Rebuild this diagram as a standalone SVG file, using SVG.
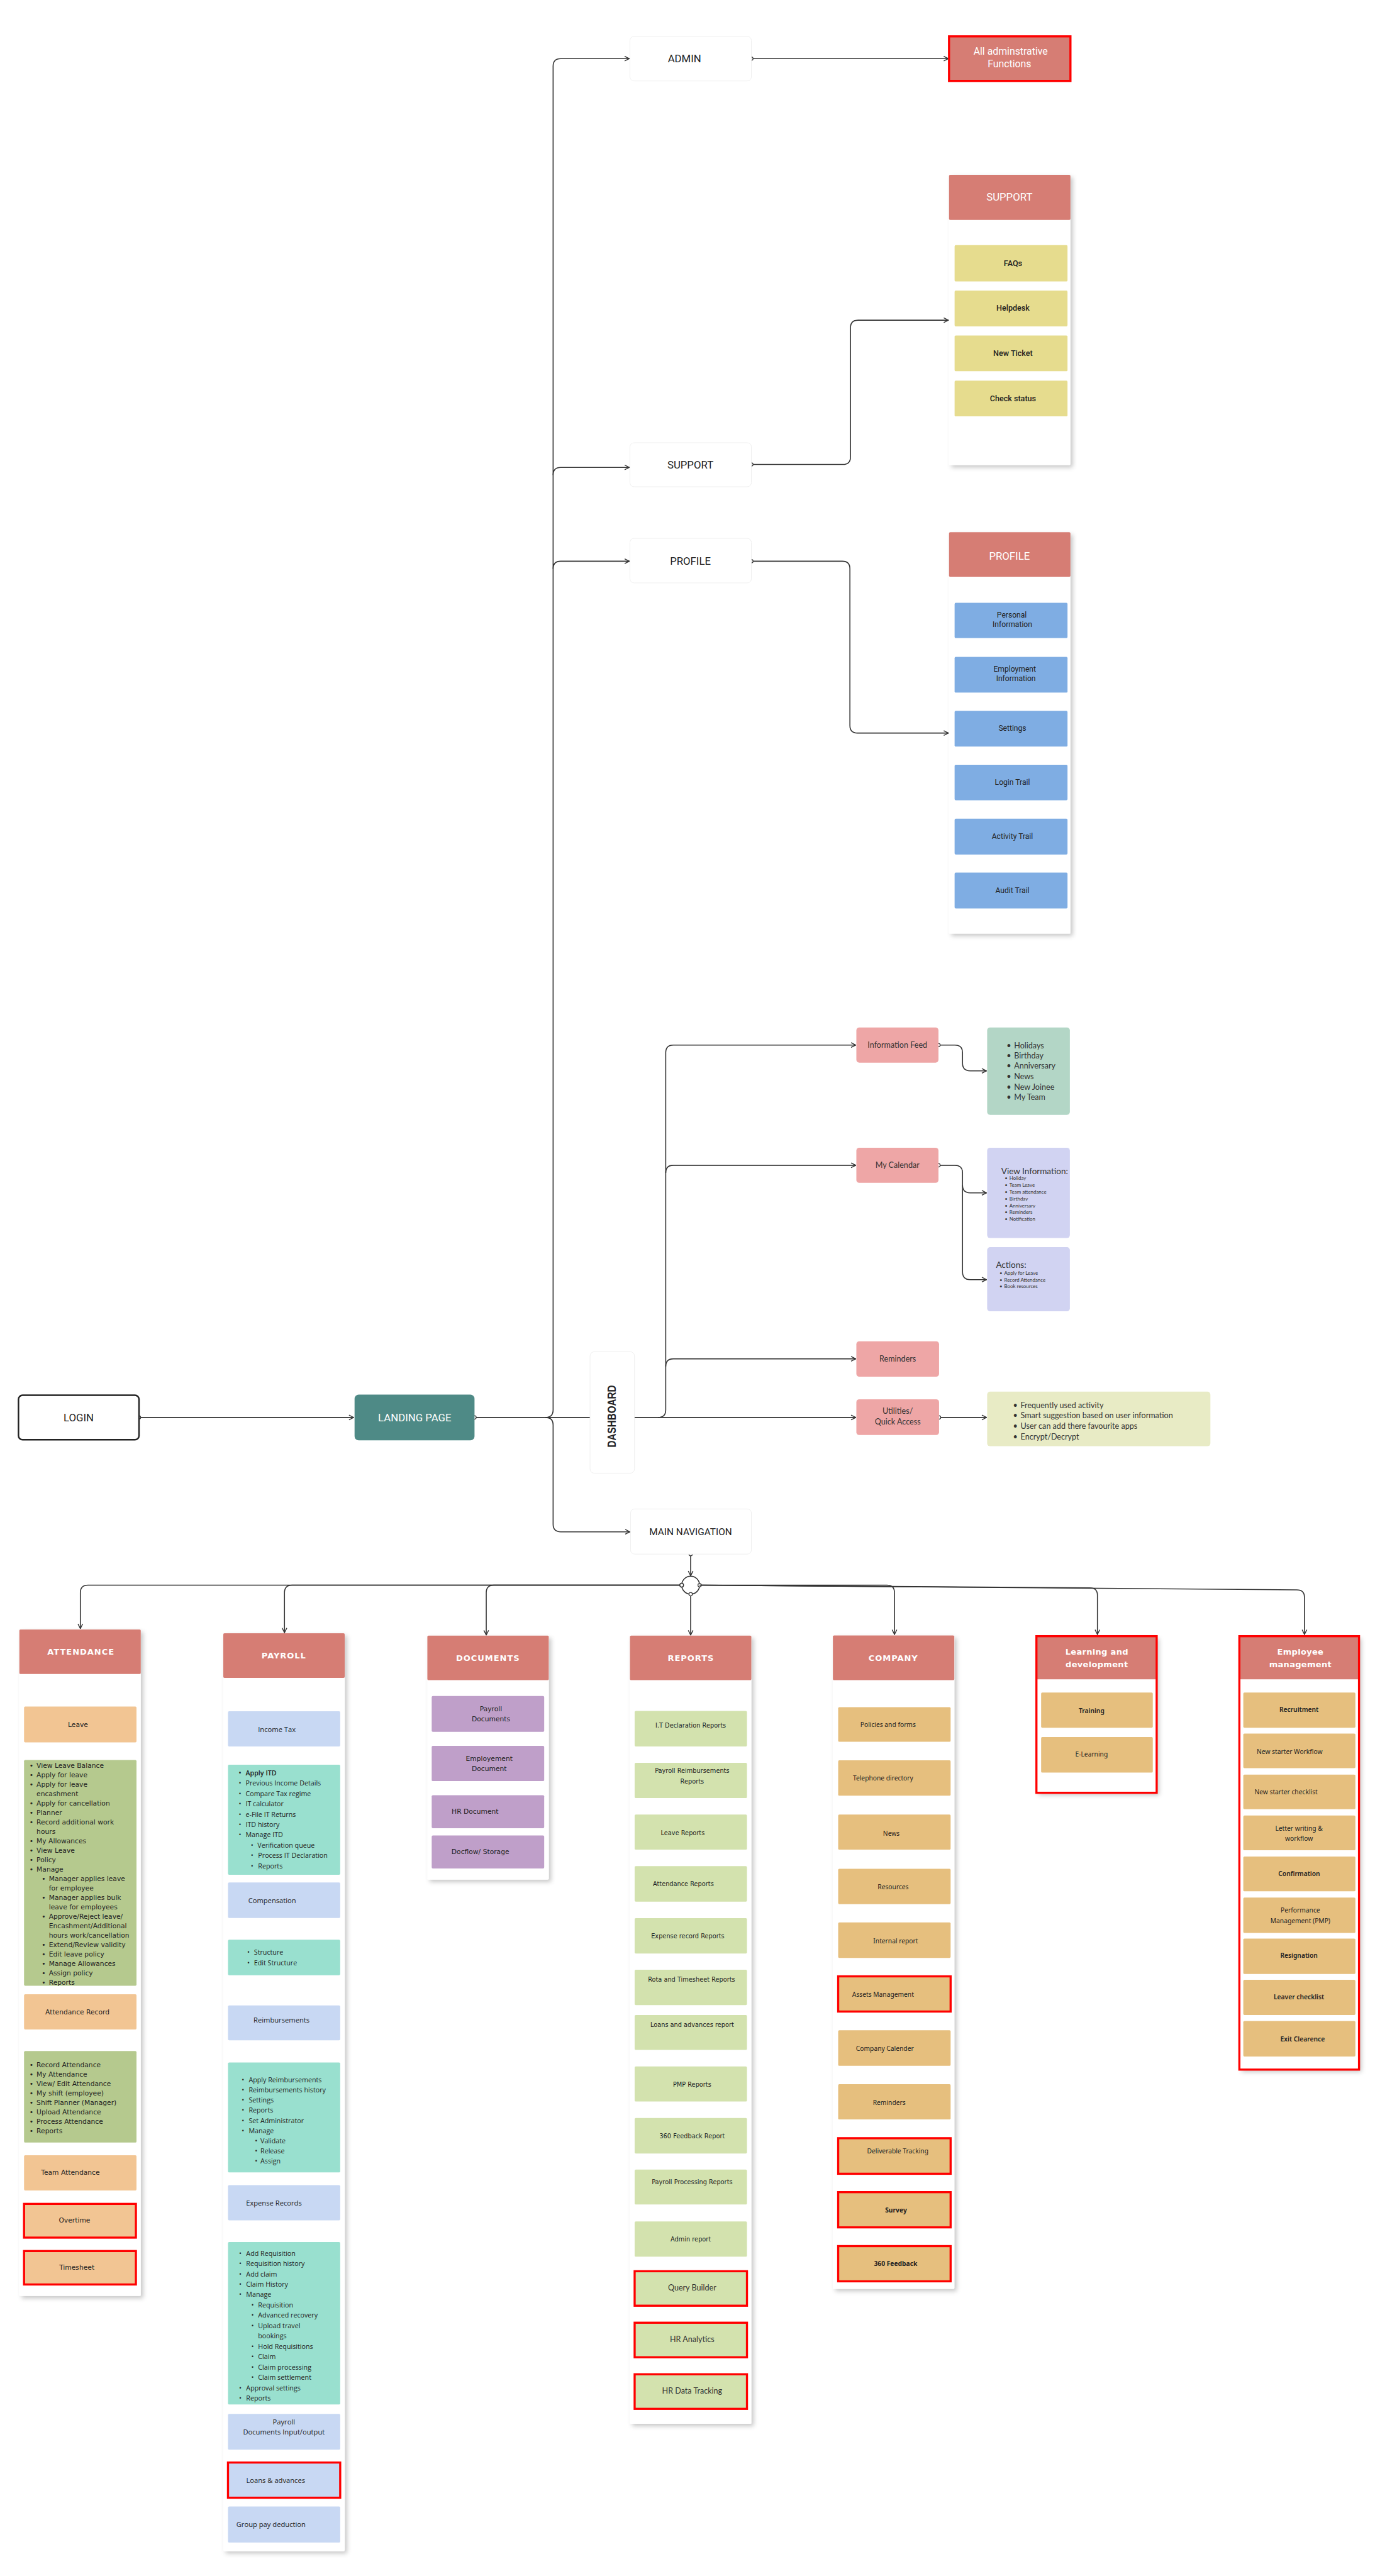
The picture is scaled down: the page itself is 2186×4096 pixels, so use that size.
<svg xmlns="http://www.w3.org/2000/svg" width="2186" height="4096" viewBox="0 0 2186 4096">
<defs>
<filter id="sh" x="-10%" y="-5%" width="125%" height="115%"><feDropShadow dx="4" dy="4" stdDeviation="4" flood-color="#000" flood-opacity="0.22"/></filter>
<marker id="ar" viewBox="0 0 10 10" refX="9" refY="5" markerWidth="10" markerHeight="10" markerUnits="userSpaceOnUse" orient="auto"><path d="M1,1 L9,5 L1,9" fill="none" stroke="#333" stroke-width="1.5"/></marker>
<marker id="dt" viewBox="0 0 10 10" refX="5" refY="5" markerWidth="8" markerHeight="8" markerUnits="userSpaceOnUse"><circle cx="5" cy="5" r="3.6" fill="#fff" stroke="#333" stroke-width="1.6"/></marker>
<style>
.c{fill:none;stroke:#333;stroke-width:1.7}
.ca{fill:none;stroke:#333;stroke-width:1.7;marker-end:url(#ar)}
.cd{fill:none;stroke:#333;stroke-width:1.7;marker-start:url(#dt);marker-end:url(#ar)}
.wn{fill:#fff;stroke:#eeeeee;stroke-width:1}
.pn{fill:#fff;filter:url(#sh)}
.hd{fill:#d67d74}
.rb{fill:none;stroke:#ff0000;stroke-width:3.6}
.t{font-family:Roboto,"Liberation Sans",sans-serif;fill:#222;text-anchor:middle;dominant-baseline:central}
.tw{font-family:Roboto,"Liberation Sans",sans-serif;fill:#fff;text-anchor:middle;dominant-baseline:central}
.h{font-family:"DejaVu Sans",sans-serif;font-weight:bold;font-size:14px;letter-spacing:1px;fill:#fff;text-anchor:middle;dominant-baseline:central}
.hl{font-family:"DejaVu Sans",sans-serif;font-weight:bold;font-size:14px;letter-spacing:0.3px;fill:#fff;text-anchor:middle;dominant-baseline:central}
.dj{font-family:"DejaVu Sans",sans-serif;font-size:11.5px;fill:#222;text-anchor:middle;dominant-baseline:central}
.djl{font-family:"DejaVu Sans",sans-serif;font-size:11.5px;fill:#222;dominant-baseline:central}
.dr{font-family:"DejaVu Sans",sans-serif;font-size:10.5px;fill:#222;text-anchor:middle;dominant-baseline:central}
.os{font-family:"Open Sans",sans-serif;font-size:12px;fill:#222;text-anchor:middle;dominant-baseline:central}
.osl{font-family:"Open Sans",sans-serif;font-size:11.5px;fill:#222;dominant-baseline:central}
.ns{font-family:"Noto Sans",sans-serif;font-size:11px;fill:#222;text-anchor:middle;dominant-baseline:central}
.la{font-family:Lato,sans-serif;font-size:13.5px;fill:#333;text-anchor:middle;dominant-baseline:central}
.lal{font-family:Lato,sans-serif;font-size:13.5px;fill:#333;dominant-baseline:central}
.las{font-family:Lato,sans-serif;font-size:8.5px;fill:#333;dominant-baseline:central}
.lat{font-family:Lato,sans-serif;font-size:14.5px;fill:#333;dominant-baseline:central}
</style>
</defs>
<g transform="scale(0.9325)">
<rect x="0" y="0" width="2344" height="4393" fill="#fff"/>

<g id="connectors">
<path class="cd" d="M237,2417 H603"/>
<path class="c" d="M809,2417 H1006" marker-start="url(#dt)"/>
<path class="ca" d="M1081,2417 H1459"/>
<path class="ca" d="M930,2417 Q943,2417 943,2404 V113 Q943,100 956,100 H1073"/>
<path class="ca" d="M943,810 Q943,797 956,797 H1073"/>
<path class="ca" d="M943,970 Q943,957 956,957 H1073"/>
<path class="ca" d="M930,2417 Q943,2417 943,2430 V2599 Q943,2612 956,2612 H1074"/>
<path class="cd" d="M1281,100 H1617"/>
<path class="cd" d="M1281,792 H1437 Q1450,792 1450,779 V559 Q1450,546 1463,546 H1617"/>
<path class="cd" d="M1281,957 H1436 Q1449,957 1449,970 V1237 Q1449,1250 1462,1250 H1617"/>
<path class="ca" d="M1122,2417 Q1135,2417 1135,2404 V1795 Q1135,1782 1148,1782 H1459"/>
<path class="ca" d="M1135,2000 Q1135,1987 1148,1987 H1459"/>
<path class="ca" d="M1135,2330 Q1135,2317 1148,2317 H1459"/>
<path class="cd" d="M1600,1782 H1628 Q1641,1782 1641,1795 V1813 Q1641,1826 1654,1826 H1682"/>
<path class="cd" d="M1600,1987 H1628 Q1641,1987 1641,2000 V2021 Q1641,2034 1654,2034 H1682"/>
<path class="ca" d="M1641,2021 V2169 Q1641,2182 1654,2182 H1682"/>
<path class="cd" d="M1601,2417 H1682"/>
<path class="cd" d="M1177.5,2650 V2687"/>
<circle cx="1177.5" cy="2703" r="15.3" fill="#fff" stroke="#333" stroke-width="1.7"/>
<path class="cd" d="M1162.2,2703 H150 Q137,2703 137,2716 V2777"/>
<path class="ca" d="M1162.2,2703 H498 Q485,2703 485,2716 V2784"/>
<path class="ca" d="M1162.2,2703 H842 Q829,2703 829,2716 V2788"/>
<path class="cd" d="M1177.5,2718.3 V2788"/>
<path class="cd" d="M1192.8,2703 H1512 Q1525,2703 1525,2716 V2787"/>
<path class="ca" d="M1192.8,2703 L1858,2707.5 Q1871,2707.6 1871,2720 V2787"/>
<path class="ca" d="M1192.8,2703 L2211,2711 Q2224,2711 2224,2724 V2787"/>
<circle cx="1162.2" cy="2703" r="3.2" fill="#fff" stroke="#333" stroke-width="1.5"/>
<path class="cd" d="M136.7,2976 V3003"/>
<path class="cd" d="M136.7,3466 V3499"/>
<path class="cd" d="M484,2980 V3008"/>
<path class="cd" d="M484,3271 V3306"/>
<path class="cd" d="M484,3480 V3515"/>
<path class="cd" d="M484,3786 V3822"/>
</g>

<g id="login"><rect x="31.5" y="2379" width="205.5" height="76" rx="7" fill="#fff" stroke="#222" stroke-width="2.6"/><text class="t" x="134" y="2417" font-size="18">LOGIN</text></g>
<g id="landing"><rect x="604.5" y="2378" width="204.5" height="78" rx="7" fill="#4e8a86"/><text class="tw" x="707" y="2417" font-size="18">LANDING PAGE</text></g>
<g id="admin"><rect class="wn" x="1074" y="62" width="207" height="76" rx="7"/><text class="t" x="1167" y="100" font-size="18">ADMIN</text></g>
<g id="support"><rect class="wn" x="1074" y="755" width="207" height="75" rx="7"/><text class="t" x="1177" y="792" font-size="18">SUPPORT</text></g>
<g id="profile"><rect class="wn" x="1074" y="918" width="207" height="76" rx="7"/><text class="t" x="1177" y="957" font-size="18">PROFILE</text></g>
<g id="dashboard"><rect class="wn" x="1006" y="2305" width="75.7" height="207" rx="7"/><text x="1043" y="2415" transform="rotate(-90 1043 2415)" font-family="'Liberation Sans',Arial,sans-serif" font-weight="bold" font-size="20" fill="#222" text-anchor="middle" dominant-baseline="central" textLength="106" lengthAdjust="spacingAndGlyphs">DASHBOARD</text></g>
<g id="main-navigation"><rect class="wn" x="1075" y="2573" width="206" height="77" rx="7"/><text class="t" x="1177.5" y="2612" font-size="16.5">MAIN NAVIGATION</text></g>

<g id="all-admin"><rect class="hd" x="1618" y="62" width="207" height="76"/><rect class="rb" x="1618" y="62" width="207" height="76"/><text class="tw" x="1723" y="87" font-size="17">All adminstrative</text><text class="tw" x="1721" y="109" font-size="17">Functions</text></g>

<g id="support-panel"><rect class="pn" x="1618" y="298" width="207" height="495" rx="2"/><rect class="hd" x="1618" y="298" width="207" height="77" rx="2"/><text class="tw" x="1721" y="336" font-size="18">SUPPORT</text>
<rect x="1627.5" y="418" width="192.5" height="62" rx="2" fill="#e6dc8e"/><text class="t" x="1727" y="449" font-size="13.5" font-weight="500">FAQs</text>
<rect x="1627.5" y="495.5" width="192.5" height="61" rx="2" fill="#e6dc8e"/><text class="t" x="1727" y="525" font-size="13.5" font-weight="500">Helpdesk</text>
<rect x="1627.5" y="572" width="192.5" height="61" rx="2" fill="#e6dc8e"/><text class="t" x="1727" y="602" font-size="13.5" font-weight="500">New Ticket</text>
<rect x="1627.5" y="649" width="192.5" height="61" rx="2" fill="#e6dc8e"/><text class="t" x="1727" y="679" font-size="13.5" font-weight="500">Check status</text></g>

<g id="profile-panel"><rect class="pn" x="1618" y="907.5" width="207" height="684.5" rx="2"/><rect class="hd" x="1618" y="907.5" width="207" height="76" rx="2"/><text class="tw" x="1721" y="948" font-size="18">PROFILE</text>
<rect x="1627.5" y="1028" width="192.5" height="60" rx="2" fill="#7fade3"/><text class="t" x="1725" y="1049" font-size="13">Personal</text><text class="t" x="1726" y="1065" font-size="13">Information</text>
<rect x="1627.5" y="1120" width="192.5" height="61" rx="2" fill="#7fade3"/><text class="t" x="1730" y="1141" font-size="13">Employment</text><text class="t" x="1732" y="1157" font-size="13">Information</text>
<rect x="1627.5" y="1212" width="192.5" height="61" rx="2" fill="#7fade3"/><text class="t" x="1726" y="1242" font-size="13">Settings</text>
<rect x="1627.5" y="1304" width="192.5" height="60.6" rx="2" fill="#7fade3"/><text class="t" x="1726" y="1334" font-size="13">Login Trail</text>
<rect x="1627.5" y="1396" width="192.5" height="61" rx="2" fill="#7fade3"/><text class="t" x="1726" y="1426" font-size="13">Activity Trail</text>
<rect x="1627.5" y="1488" width="192.5" height="61" rx="2" fill="#7fade3"/><text class="t" x="1726" y="1518" font-size="13">Audit Trail</text></g>

<g id="information-feed"><rect x="1460" y="1752" width="140" height="60" rx="5" fill="#eea6a6"/><text class="la" x="1530" y="1782">Information Feed</text></g>
<g id="info-feed-list"><rect x="1683" y="1752" width="141" height="149" rx="5" fill="#b3d6c6"/>
<text class="lal" y="1782"><tspan x="1716">•</tspan><tspan x="1729">Holidays</tspan></text>
<text class="lal" y="1799.6"><tspan x="1716">•</tspan><tspan x="1729">Birthday</tspan></text>
<text class="lal" y="1817"><tspan x="1716">•</tspan><tspan x="1729">Anniversary</tspan></text>
<text class="lal" y="1835"><tspan x="1716">•</tspan><tspan x="1729">News</tspan></text>
<text class="lal" y="1852.6"><tspan x="1716">•</tspan><tspan x="1729">New Joinee</tspan></text>
<text class="lal" y="1870.5"><tspan x="1716">•</tspan><tspan x="1729">My Team</tspan></text></g>
<g id="my-calendar"><rect x="1460" y="1957" width="140" height="60" rx="5" fill="#eea6a6"/><text class="la" x="1530" y="1987">My Calendar</text></g>
<g id="view-information"><rect x="1683" y="1957" width="141" height="154" rx="5" fill="#d1d3f2"/>
<text class="lat" x="1707" y="1996.5">View Information:</text>
<text class="las" y="2009"><tspan x="1713">•</tspan><tspan x="1721">Holiday</tspan></text>
<text class="las" y="2020.6"><tspan x="1713">•</tspan><tspan x="1721">Team Leave</tspan></text>
<text class="las" y="2032"><tspan x="1713">•</tspan><tspan x="1721">Team attendance</tspan></text>
<text class="las" y="2044"><tspan x="1713">•</tspan><tspan x="1721">Birthday</tspan></text>
<text class="las" y="2055.7"><tspan x="1713">•</tspan><tspan x="1721">Anniversary</tspan></text>
<text class="las" y="2067"><tspan x="1713">•</tspan><tspan x="1721">Reminders</tspan></text>
<text class="las" y="2078.7"><tspan x="1713">•</tspan><tspan x="1721">Notification</tspan></text></g>
<g id="actions"><rect x="1683" y="2126.6" width="141" height="109.4" rx="5" fill="#d1d3f2"/>
<text class="lat" x="1698" y="2157">Actions:</text>
<text class="las" y="2170.5"><tspan x="1704">•</tspan><tspan x="1712">Apply for Leave</tspan></text>
<text class="las" y="2182"><tspan x="1704">•</tspan><tspan x="1712">Record Attendance</tspan></text>
<text class="las" y="2193.5"><tspan x="1704">•</tspan><tspan x="1712">Book resources</tspan></text></g>
<g id="reminders"><rect x="1460" y="2287" width="141" height="60.5" rx="5" fill="#eea6a6"/><text class="la" x="1530.5" y="2317">Reminders</text></g>
<g id="utilities"><rect x="1460" y="2386" width="141" height="61" rx="5" fill="#eea6a6"/><text class="la" x="1530.5" y="2406">Utilities/</text><text class="la" x="1530.5" y="2424.6">Quick Access</text></g>
<g id="utilities-list"><rect x="1683" y="2373" width="380.6" height="93" rx="5" fill="#e8ebc5"/>
<text class="lal" y="2396"><tspan x="1727">•</tspan><tspan x="1740">Frequently used activity</tspan></text>
<text class="lal" y="2413.4"><tspan x="1727">•</tspan><tspan x="1740">Smart suggestion based on user information</tspan></text>
<text class="lal" y="2431"><tspan x="1727">•</tspan><tspan x="1740">User can add there favourite apps</tspan></text>
<text class="lal" y="2449"><tspan x="1727">•</tspan><tspan x="1740">Encrypt/Decrypt</tspan></text></g>

<g id="attendance"><rect class="pn" x="33" y="2778.5" width="207" height="1136.5" rx="2"/><rect class="hd" x="33" y="2778.5" width="207" height="76" rx="2"/><text class="h" x="138" y="2817">ATTENDANCE</text>
<rect x="41" y="2910" width="191.7" height="61" rx="2" fill="#f2c593"/><text class="dj" x="133" y="2940.5">Leave</text>
<rect x="41" y="3001" width="191.7" height="385" rx="2" fill="#b5c98e"/>
<text class="djl" y="3010.7"><tspan x="50">•</tspan><tspan x="62.3">View Leave Balance</tspan></text>
<text class="djl" y="3026.8"><tspan x="50">•</tspan><tspan x="62.3">Apply for leave</tspan></text>
<text class="djl" y="3042.8"><tspan x="50">•</tspan><tspan x="62.3">Apply for leave</tspan></text>
<text class="djl" x="62.3" y="3058.9">encashment</text>
<text class="djl" y="3075"><tspan x="50">•</tspan><tspan x="62.3">Apply for cancellation</tspan></text>
<text class="djl" y="3091.1"><tspan x="50">•</tspan><tspan x="62.3">Planner</tspan></text>
<text class="djl" y="3107.1"><tspan x="50">•</tspan><tspan x="62.3">Record additional work</tspan></text>
<text class="djl" x="62.3" y="3123.2">hours</text>
<text class="djl" y="3139.3"><tspan x="50">•</tspan><tspan x="62.3">My Allowances</tspan></text>
<text class="djl" y="3155.3"><tspan x="50">•</tspan><tspan x="62.3">View Leave</tspan></text>
<text class="djl" y="3171.4"><tspan x="50">•</tspan><tspan x="62.3">Policy</tspan></text>
<text class="djl" y="3187.5"><tspan x="50">•</tspan><tspan x="62.3">Manage</tspan></text>
<text class="djl" y="3203.5"><tspan x="71">•</tspan><tspan x="83.3">Manager applies leave</tspan></text>
<text class="djl" x="83.3" y="3219.6">for employee</text>
<text class="djl" y="3235.7"><tspan x="71">•</tspan><tspan x="83.3">Manager applies bulk</tspan></text>
<text class="djl" x="83.3" y="3251.8">leave for employees</text>
<text class="djl" y="3267.8"><tspan x="71">•</tspan><tspan x="83.3">Approve/Reject leave/</tspan></text>
<text class="djl" x="83.3" y="3283.9">Encashment/Additional</text>
<text class="djl" x="83.3" y="3300">hours work/cancellation</text>
<text class="djl" y="3316"><tspan x="71">•</tspan><tspan x="83.3">Extend/Review validity</tspan></text>
<text class="djl" y="3332.1"><tspan x="71">•</tspan><tspan x="83.3">Edit leave policy</tspan></text>
<text class="djl" y="3348.2"><tspan x="71">•</tspan><tspan x="83.3">Manage Allowances</tspan></text>
<text class="djl" y="3364.2"><tspan x="71">•</tspan><tspan x="83.3">Assign policy</tspan></text>
<text class="djl" y="3380.3"><tspan x="71">•</tspan><tspan x="83.3">Reports</tspan></text>
<rect x="41" y="3400.5" width="191.7" height="60" rx="2" fill="#f2c593"/><text class="dj" x="132" y="3431">Attendance Record</text>
<rect x="41" y="3497.4" width="191.7" height="156" rx="2" fill="#b5c98e"/>
<text class="djl" y="3520.4"><tspan x="50">•</tspan><tspan x="62.3">Record Attendance</tspan></text>
<text class="djl" y="3536.5"><tspan x="50">•</tspan><tspan x="62.3">My Attendance</tspan></text>
<text class="djl" y="3552.5"><tspan x="50">•</tspan><tspan x="62.3">View/ Edit Attendance</tspan></text>
<text class="djl" y="3568.6"><tspan x="50">•</tspan><tspan x="62.3">My shift (employee)</tspan></text>
<text class="djl" y="3584.6"><tspan x="50">•</tspan><tspan x="62.3">Shift Planner (Manager)</tspan></text>
<text class="djl" y="3600.7"><tspan x="50">•</tspan><tspan x="62.3">Upload Attendance</tspan></text>
<text class="djl" y="3616.8"><tspan x="50">•</tspan><tspan x="62.3">Process Attendance</tspan></text>
<text class="djl" y="3632.8"><tspan x="50">•</tspan><tspan x="62.3">Reports</tspan></text>
<rect x="41" y="3675" width="191.7" height="60" rx="2" fill="#f2c593"/><text class="dj" x="120" y="3705">Team Attendance</text>
<rect x="41" y="3758" width="190.7" height="57.5" fill="#f2c593"/><rect class="rb" x="41" y="3758" width="190.7" height="57.5"/><text class="dj" x="127" y="3786.5">Overtime</text>
<rect x="41" y="3838.4" width="190.7" height="57" fill="#f2c593"/><rect class="rb" x="41" y="3838.4" width="190.7" height="57"/><text class="dj" x="131" y="3867">Timesheet</text></g>

<g id="payroll"><rect class="pn" x="380.7" y="2785" width="207" height="1565" rx="2"/><rect class="hd" x="380.7" y="2785" width="207" height="76" rx="2"/><text class="h" x="484" y="2823">PAYROLL</text>
<rect x="388.7" y="2918" width="191.3" height="60" rx="2" fill="#c8d8f3"/><text class="os" x="472" y="2949">Income Tax</text>
<rect x="388.7" y="3009" width="191.3" height="187.7" rx="2" fill="#99e0cf"/>
<text class="osl" y="3023" font-weight="600"><tspan x="407">•</tspan><tspan x="418.7">Apply ITD</tspan></text>
<text class="osl" y="3040.6"><tspan x="407">•</tspan><tspan x="418.7">Previous Income Details</tspan></text>
<text class="osl" y="3058.2"><tspan x="407">•</tspan><tspan x="418.7">Compare Tax regime</tspan></text>
<text class="osl" y="3075.8"><tspan x="407">•</tspan><tspan x="418.7">IT calculator</tspan></text>
<text class="osl" y="3093.4"><tspan x="407">•</tspan><tspan x="418.7">e-File IT Returns</tspan></text>
<text class="osl" y="3111"><tspan x="407">•</tspan><tspan x="418.7">ITD history</tspan></text>
<text class="osl" y="3128.6"><tspan x="407">•</tspan><tspan x="418.7">Manage ITD</tspan></text>
<text class="osl" y="3146.2"><tspan x="427.5">•</tspan><tspan x="439">Verification queue</tspan></text>
<text class="osl" y="3163.8"><tspan x="427.5">•</tspan><tspan x="440">Process IT Declaration</tspan></text>
<text class="osl" y="3181.4"><tspan x="427.5">•</tspan><tspan x="440">Reports</tspan></text>
<rect x="388.7" y="3210" width="191.3" height="60.5" rx="2" fill="#c8d8f3"/><text class="os" x="464" y="3240">Compensation</text>
<rect x="388.7" y="3307.6" width="191.3" height="60.4" rx="2" fill="#99e0cf"/>
<text class="osl" y="3329"><tspan x="421.5">•</tspan><tspan x="433">Structure</tspan></text>
<text class="osl" y="3347"><tspan x="421.5">•</tspan><tspan x="433">Edit Structure</tspan></text>
<rect x="388.7" y="3419.5" width="191.3" height="59.5" rx="2" fill="#c8d8f3"/><text class="os" x="480" y="3444">Reimbursements</text>
<rect x="388.7" y="3516.8" width="191.3" height="187.6" rx="2" fill="#99e0cf"/>
<text class="osl" y="3546"><tspan x="412">•</tspan><tspan x="424">Apply Reimbursements</tspan></text>
<text class="osl" y="3563.4"><tspan x="412">•</tspan><tspan x="424">Reimbursements history</tspan></text>
<text class="osl" y="3580.8"><tspan x="412">•</tspan><tspan x="424">Settings</tspan></text>
<text class="osl" y="3598.2"><tspan x="412">•</tspan><tspan x="424">Reports</tspan></text>
<text class="osl" y="3615.6"><tspan x="412">•</tspan><tspan x="424">Set Administrator</tspan></text>
<text class="osl" y="3633"><tspan x="412">•</tspan><tspan x="424">Manage</tspan></text>
<text class="osl" y="3650.4"><tspan x="434.5">•</tspan><tspan x="444">Validate</tspan></text>
<text class="osl" y="3667.8"><tspan x="434.5">•</tspan><tspan x="444">Release</tspan></text>
<text class="osl" y="3685.2"><tspan x="434.5">•</tspan><tspan x="444">Assign</tspan></text>
<rect x="388.7" y="3726" width="191.3" height="60" rx="2" fill="#c8d8f3"/><text class="os" x="467" y="3756">Expense Records</text>
<rect x="388.7" y="3823" width="191.3" height="277" rx="2" fill="#99e0cf"/>
<text class="osl" y="3842"><tspan x="407.5">•</tspan><tspan x="419.7">Add Requisition</tspan></text>
<text class="osl" y="3859.7"><tspan x="407.5">•</tspan><tspan x="419.7">Requisition history</tspan></text>
<text class="osl" y="3877.3"><tspan x="407.5">•</tspan><tspan x="419.7">Add claim</tspan></text>
<text class="osl" y="3895"><tspan x="407.5">•</tspan><tspan x="419.7">Claim History</tspan></text>
<text class="osl" y="3912.6"><tspan x="407.5">•</tspan><tspan x="419.7">Manage</tspan></text>
<text class="osl" y="3930.3"><tspan x="428.5">•</tspan><tspan x="440">Requisition</tspan></text>
<text class="osl" y="3947.9"><tspan x="428.5">•</tspan><tspan x="440">Advanced recovery</tspan></text>
<text class="osl" y="3965.6"><tspan x="428.5">•</tspan><tspan x="440">Upload travel</tspan></text>
<text class="osl" x="440" y="3983.2">bookings</text>
<text class="osl" y="4000.9"><tspan x="428.5">•</tspan><tspan x="440">Hold Requisitions</tspan></text>
<text class="osl" y="4018.5"><tspan x="428.5">•</tspan><tspan x="440">Claim</tspan></text>
<text class="osl" y="4036.2"><tspan x="428.5">•</tspan><tspan x="440">Claim processing</tspan></text>
<text class="osl" y="4053.8"><tspan x="428.5">•</tspan><tspan x="440">Claim settlement</tspan></text>
<text class="osl" y="4071.5"><tspan x="407.5">•</tspan><tspan x="419.7">Approval settings</tspan></text>
<text class="osl" y="4089.1"><tspan x="407.5">•</tspan><tspan x="419.7">Reports</tspan></text>
<rect x="388.7" y="4116" width="191.3" height="61" rx="2" fill="#c8d8f3"/><text class="os" x="484" y="4129">Payroll</text><text class="os" x="484" y="4146.7">Documents Input/output</text>
<rect x="388.7" y="4199" width="191.3" height="60" fill="#c8d8f3"/><rect class="rb" x="388.7" y="4199" width="191.3" height="60"/><text class="os" x="470" y="4229">Loans &amp; advances</text>
<rect x="388.7" y="4274" width="191.3" height="61.5" rx="2" fill="#c8d8f3"/><text class="os" x="462" y="4304">Group pay deduction</text></g>

<g id="documents"><rect class="pn" x="728.6" y="2789" width="207" height="416" rx="2"/><rect class="hd" x="728.6" y="2789" width="207" height="76" rx="2"/><text class="h" x="832" y="2827">DOCUMENTS</text>
<rect x="736" y="2892" width="191.8" height="61" rx="2" fill="#bf9fc9"/><text class="dj" x="837" y="2914">Payroll</text><text class="dj" x="837" y="2931.6">Documents</text>
<rect x="736" y="2977" width="191.8" height="60" rx="2" fill="#bf9fc9"/><text class="dj" x="834" y="2998.8">Employement</text><text class="dj" x="834" y="3016">Document</text>
<rect x="736" y="3061" width="191.8" height="56.4" rx="2" fill="#bf9fc9"/><text class="dj" x="810" y="3089">HR Document</text>
<rect x="736" y="3129.8" width="191.8" height="56.2" rx="2" fill="#bf9fc9"/><text class="dj" x="819" y="3158">Docflow/ Storage</text></g>

<g id="reports"><rect class="pn" x="1074" y="2789" width="207" height="1344" rx="2"/><rect class="hd" x="1074" y="2789" width="207" height="76" rx="2"/><text class="h" x="1178" y="2827">REPORTS</text>
<rect x="1082" y="2917.5" width="191.5" height="60.5" rx="2" fill="#d3e2ae"/><text class="dr" x="1177.6" y="2941.6">I.T Declaration Reports</text>
<rect x="1082" y="3006" width="191.5" height="60" rx="2" fill="#d3e2ae"/><text class="dr" x="1180" y="3019.5">Payroll Reimbursements</text><text class="dr" x="1180" y="3037">Reports</text>
<rect x="1082" y="3094" width="191.5" height="60" rx="2" fill="#d3e2ae"/><text class="dr" x="1164" y="3125">Leave Reports</text>
<rect x="1082" y="3182" width="191.5" height="60.6" rx="2" fill="#d3e2ae"/><text class="dr" x="1165" y="3212.7">Attendance Reports</text>
<rect x="1082" y="3270.8" width="191.5" height="60.2" rx="2" fill="#d3e2ae"/><text class="dr" x="1172.6" y="3301.5">Expense record Reports</text>
<rect x="1082" y="3358.7" width="191.5" height="60.3" rx="2" fill="#d3e2ae"/><text class="dr" x="1179" y="3375">Rota and Timesheet Reports</text>
<rect x="1082" y="3435.8" width="191.5" height="59.7" rx="2" fill="#d3e2ae"/><text class="dr" x="1180" y="3452.4">Loans and advances report</text>
<rect x="1082" y="3523.7" width="191.5" height="59.7" rx="2" fill="#d3e2ae"/><text class="dr" x="1180" y="3554.4">PMP Reports</text>
<rect x="1082" y="3611.6" width="191.5" height="60.4" rx="2" fill="#d3e2ae"/><text class="dr" x="1180" y="3642">360 Feedback Report</text>
<rect x="1082" y="3699.5" width="191.5" height="59.5" rx="2" fill="#d3e2ae"/><text class="dr" x="1180" y="3721">Payroll Processing Reports</text>
<rect x="1082" y="3788" width="191.5" height="60" rx="2" fill="#d3e2ae"/><text class="dr" x="1177.6" y="3818">Admin report</text>
<rect x="1082" y="3872.8" width="191.5" height="58.8" fill="#d3e2ae"/><rect class="rb" x="1082" y="3872.8" width="191.5" height="58.8"/><text class="la" x="1180" y="3901">Query Builder</text>
<rect x="1082" y="3960.6" width="191.5" height="58.9" fill="#d3e2ae"/><rect class="rb" x="1082" y="3960.6" width="191.5" height="58.9"/><text class="la" x="1180" y="3989">HR Analytics</text>
<rect x="1082" y="4048.5" width="191.5" height="59" fill="#d3e2ae"/><rect class="rb" x="1082" y="4048.5" width="191.5" height="59"/><text class="la" x="1180" y="4077">HR Data Tracking</text></g>

<g id="company"><rect class="pn" x="1420" y="2788.7" width="207" height="1114.3" rx="2"/><rect class="hd" x="1420" y="2788.7" width="207" height="76.3" rx="2"/><text class="h" x="1523" y="2827">COMPANY</text>
<rect x="1429" y="2911" width="191.7" height="59" rx="2" fill="#e6bf7e"/><text class="ns" x="1514" y="2941">Policies and forms</text>
<rect x="1429" y="3001.7" width="191.7" height="60.3" rx="2" fill="#e6bf7e"/><text class="ns" x="1505.5" y="3031.5">Telephone directory</text>
<rect x="1429" y="3094" width="191.7" height="60" rx="2" fill="#e6bf7e"/><text class="ns" x="1519.6" y="3125.5">News</text>
<rect x="1429" y="3186.6" width="191.7" height="60.3" rx="2" fill="#e6bf7e"/><text class="ns" x="1522.7" y="3217">Resources</text>
<rect x="1429" y="3278" width="191.7" height="60.5" rx="2" fill="#e6bf7e"/><text class="ns" x="1527" y="3309.6">Internal report</text>
<rect x="1429" y="3370" width="191.7" height="60" fill="#e6bf7e"/><rect class="rb" x="1429" y="3370" width="191.7" height="60"/><text class="ns" x="1505.5" y="3401">Assets Management</text>
<rect x="1429" y="3462" width="191.7" height="60.6" rx="2" fill="#e6bf7e"/><text class="ns" x="1508.6" y="3492.7">Company Calender</text>
<rect x="1429" y="3554" width="191.7" height="60" rx="2" fill="#e6bf7e"/><text class="ns" x="1516" y="3584.5">Reminders</text>
<rect x="1429" y="3646" width="191.7" height="60.6" fill="#e6bf7e"/><rect class="rb" x="1429" y="3646" width="191.7" height="60.6"/><text class="ns" x="1530.6" y="3668">Deliverable Tracking</text>
<rect x="1429" y="3738" width="191.7" height="60" fill="#e6bf7e"/><rect class="rb" x="1429" y="3738" width="191.7" height="60"/><text class="ns" x="1527.6" y="3768" font-weight="bold">Survey</text>
<rect x="1429" y="3830" width="191.7" height="60" fill="#e6bf7e"/><rect class="rb" x="1429" y="3830" width="191.7" height="60"/><text class="ns" x="1527" y="3859" font-weight="bold">360 Feedback</text></g>

<g id="learning-and-development"><rect class="pn" x="1767" y="2790" width="205" height="267"/><rect class="hd" x="1767" y="2790" width="205" height="73.5"/><text class="hl" x="1870" y="2817">Learning and</text><text class="hl" x="1870" y="2838.5">development</text>
<rect x="1775" y="2886" width="190.4" height="60" rx="2" fill="#e6bf7e"/><text class="ns" x="1861" y="2916.5" font-weight="600">Training</text>
<rect x="1775" y="2962" width="190.4" height="60.6" rx="2" fill="#e6bf7e"/><text class="ns" x="1861" y="2991">E-Learning</text>
<rect class="rb" x="1767" y="2790" width="205" height="267"/></g>

<g id="employee-management"><rect class="pn" x="2113" y="2790" width="204" height="739"/><rect class="hd" x="2113" y="2790" width="204" height="73.5"/><text class="hl" x="2217" y="2817">Employee</text><text class="hl" x="2217" y="2838.5">management</text>
<rect x="2119.7" y="2886" width="191.1" height="60" rx="2" fill="#e6bf7e"/><text class="ns" x="2214.6" y="2915" font-weight="600">Recruitment</text>
<rect x="2119.7" y="2956" width="191.1" height="59" rx="2" fill="#e6bf7e"/><text class="ns" x="2198.7" y="2986.5">New starter Workflow</text>
<rect x="2119.7" y="3026" width="191.1" height="59" rx="2" fill="#e6bf7e"/><text class="ns" x="2192.6" y="3055.6">New starter checklist</text>
<rect x="2119.7" y="3095.8" width="191.1" height="59.2" rx="2" fill="#e6bf7e"/><text class="ns" x="2214.6" y="3117.5">Letter writing &amp;</text><text class="ns" x="2214.6" y="3135">workflow</text>
<rect x="2119.7" y="3165.6" width="191.1" height="59.4" rx="2" fill="#e6bf7e"/><text class="ns" x="2215" y="3194.5" font-weight="600">Confirmation</text>
<rect x="2119.7" y="3235.6" width="191.1" height="60.4" rx="2" fill="#e6bf7e"/><text class="ns" x="2217" y="3257">Performance</text><text class="ns" x="2217" y="3275">Management (PMP)</text>
<rect x="2119.7" y="3305.6" width="191.1" height="60.4" rx="2" fill="#e6bf7e"/><text class="ns" x="2214.6" y="3334.5" font-weight="600">Resignation</text>
<rect x="2119.7" y="3376" width="191.1" height="59.8" rx="2" fill="#e6bf7e"/><text class="ns" x="2214.6" y="3405" font-weight="600">Leaver checklist</text>
<rect x="2119.7" y="3446" width="191.1" height="60.6" rx="2" fill="#e6bf7e"/><text class="ns" x="2220.8" y="3476.8" font-weight="600">Exit Clearence</text>
<rect class="rb" x="2113" y="2790" width="204" height="739"/></g>
</g>
</svg>
